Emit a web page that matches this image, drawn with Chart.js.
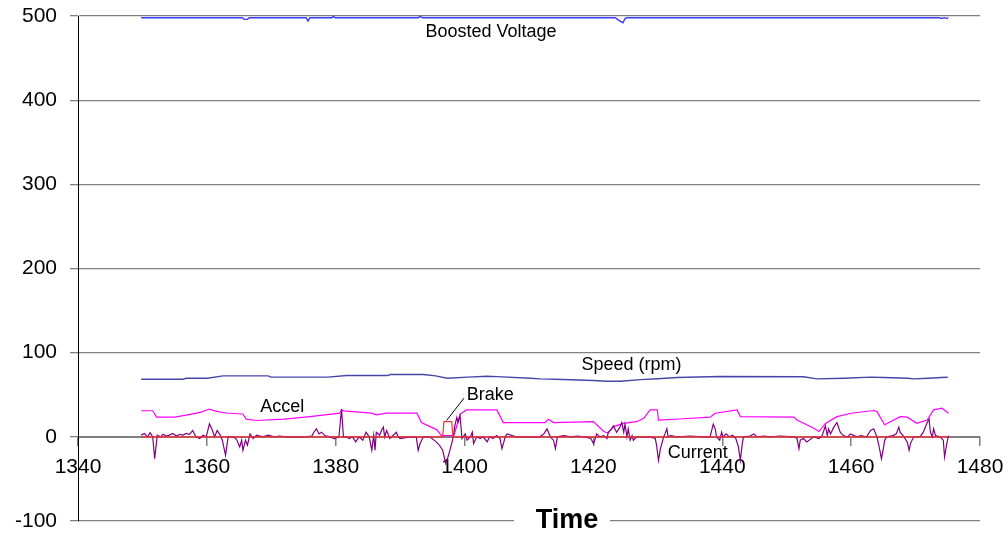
<!DOCTYPE html>
<html>
<head>
<meta charset="utf-8">
<script src="https://cdn.jsdelivr.net/npm/chart.js@4/dist/chart.umd.min.js"></script>
<style>
html,body{margin:0;padding:0;background:#fff;}
#wrap{width:1008px;height:533px;}
</style>
</head>
<body>
<div id="wrap"><canvas id="c" width="1008" height="533"></canvas></div>
<script>
// ---- Data ----
const xTicks = [1340, 1360, 1380, 1400, 1420, 1440, 1460, 1480];
const yTicks = [-100, 0, 100, 200, 300, 400, 500];

const voltageTime = [1349.8,1365.5,1365.8,1366.3,1366.6,1375.4,1375.7,1376.0,1379.4,1379.6,1379.9,1392.8,1393.1,1393.5,1423.4,1424.0,1424.6,1424.9,1425.2,1473.6,1474.0,1474.5,1474.8,1475.1];
const voltage     = [498,498,496,496,498,498,494,498,498,499.5,498,498,499.5,498,498,494.5,492,497,498,498,497,498,497,498];

const speedTime = [1349.8,1356.3,1356.8,1360.1,1362.5,1369.5,1370,1378.8,1381.7,1388,1388.5,1393.6,1395.5,1397.3,1400.5,1403.5,1405,1410.2,1411.7,1415.3,1420,1422,1424.2,1427.3,1430,1433,1439.6,1452.6,1454.7,1459,1463,1465,1468.8,1469.7,1472,1474,1475];
const speed     = [68.5,68.5,69.6,69.6,72.4,72.4,70.9,70.9,72.8,72.8,74,74,72.4,69.6,70.9,72,71.5,69.6,68.9,68.1,67,66.1,66.1,68,69,70.5,71.6,71.3,68.9,69.6,70.9,70.5,69.6,68.9,69.6,70.5,70.8];

const accelTime = [1349.8,1351.6,1352.2,1355,1357,1359,1360.4,1361.5,1363.0,1365.6,1366.1,1367.7,1372,1376.0,1380.6,1380.9,1381.2,1385.6,1386.3,1387.9,1392.6,1393.3,1395.7,1396.4,1398.3,1398.5,1399.3,1400.3,1405,1406,1411.7,1412.5,1413,1413.8,1420,1421.6,1422.3,1423.1,1424.7,1426.7,1427.8,1428.8,1429.9,1430.1,1434,1438.1,1438.9,1442.3,1442.8,1451.1,1451.6,1454.2,1455,1456,1457.8,1460,1463.5,1464,1465.2,1467.6,1468.7,1470.2,1471.8,1472.8,1474.1,1475.1];
const accel     = [31,31,23.4,23.4,26,29,33,30.2,28.3,27.1,21.1,19.4,21,24.1,28.1,32,30.9,28.1,26.1,28.1,28.1,17,8.3,1.5,1.5,5.5,27,32,32,17,17,17,21,17,18,6.3,4.4,12.2,16,18,22,32,32,20,21.5,23.4,28,32,24,23.4,20,10.3,6.3,16,24,28,31.3,30,14.3,24,23.4,16,20,32,34,28];

const brakeTime = [1349.8,1396.6,1396.8,1398.0,1398.2,1475.1];
const brake     = [0,0,18,18,0,0];

const currentTime = [1349.8,1350.3,1350.8,1351.2,1351.6,1351.9,1352.3,1352.8,1353.2,1353.7,1354.2,1354.7,1355.3,1355.8,1356.3,1356.8,1357.3,1357.8,1358.3,1358.9,1359.4,1359.9,1360.4,1360.8,1361.2,1361.6,1362.0,1362.4,1362.9,1363.3,1364.1,1364.6,1365.1,1365.4,1365.6,1366.0,1366.3,1366.7,1367.2,1367.7,1368.7,1369.5,1370.5,1371.3,1372.3,1373.9,1375,1376.3,1376.6,1377.0,1377.4,1377.8,1378.3,1379.1,1379.8,1380.5,1380.9,1381.2,1381.6,1382.1,1382.6,1383.1,1383.6,1384.2,1384.7,1385.2,1385.6,1385.9,1386.1,1386.3,1386.8,1387.1,1387.4,1387.6,1387.9,1388.4,1389.4,1389.7,1390,1391.5,1392.5,1392.8,1393.1,1393.6,1394.6,1395.6,1396.1,1396.6,1397.1,1397.5,1398.0,1398.3,1398.5,1398.8,1399.0,1399.3,1399.6,1400.1,1400.4,1400.9,1401.2,1401.4,1401.9,1402.4,1402.9,1403.5,1403.9,1404.4,1405.0,1405.5,1405.8,1406.1,1406.3,1406.6,1408,1410,1411.7,1412.3,1412.8,1413.3,1413.8,1414.1,1414.4,1415.4,1416.5,1417.5,1418.6,1419.6,1420.0,1420.3,1420.5,1421.0,1421.6,1422.1,1422.3,1422.8,1423.1,1423.6,1424.1,1424.4,1424.7,1424.9,1425.2,1425.4,1425.7,1426.0,1426.2,1426.7,1428.8,1429.6,1429.8,1430.1,1430.4,1430.9,1431.1,1431.4,1431.6,1432,1433,1435,1437,1438.1,1438.6,1438.9,1439.1,1439.6,1439.9,1440.1,1440.6,1441.1,1441.6,1442.1,1442.5,1442.8,1443.1,1443.3,1444.3,1444.9,1445.4,1446.5,1447.5,1449,1451.1,1451.6,1451.9,1452.1,1452.6,1453.1,1454.2,1455.0,1455.5,1456.0,1456.3,1456.5,1456.8,1457.3,1457.8,1458.3,1458.8,1459.4,1459.9,1460.9,1461.5,1462.4,1463.0,1463.5,1464.0,1464.3,1464.7,1465.0,1465.2,1465.5,1466.5,1467.0,1467.4,1467.6,1468.2,1468.7,1469.0,1469.2,1469.7,1470.7,1471.2,1471.8,1472.1,1472.3,1472.6,1472.8,1473.1,1473.8,1474.3,1474.5,1474.8,1475.1];
const current     = [2,4,0,5,0,-26,2,0,3,1,2,4,1,3,2,4,3,7.5,0,-2,2,0,15.4,9,0,7.5,3,-4,-22,0,0,-3,-12,-4,-16,-4,-10,3.5,-2,2,0,2,0,1,0,0,0,1,5.5,9.5,3.5,5.5,1.5,0,-2,0,33,0,0,-2,0,-6,0,-4,5.5,0,-16,2,-16,5.5,2,7.5,11.5,0,7.5,-2,5.5,0,-2,0,0,-16,-8,0,0,-6,-10,-16,-32,-22,-8,2,13.5,23,17.5,25,-2,3.5,-4,0,5.5,-8,0,-2,0,-6,0,-2,1.5,-2,-14,-6,0,3.5,0,0,0,3.5,9.5,0,-4,-14,0,1.5,0,1,0,-2,-8,-2,3.5,0,1.5,-2,5.5,9.5,13,5.5,11.5,17,5.5,15,0,9.5,-4,1.5,-4,0,0,-2,-10,-28,-14,0,3.5,9.5,0,1.5,0,1,0,0,15,9.5,0,-4,5.5,0,3.5,0,2,-2,-12,-28,-8,0,1,3.5,0,1,0,1,0,-2,-14,-4,-2,-6,0,-2,1.5,13,1.5,9.5,3.5,11.5,17,5.5,1.5,0,3.5,0,1.5,0,7.5,9.5,0,-10,-26,-14,-4,0,1.5,3.5,11.5,5.5,0,-6,-16,-8,0,0,5.5,17,21,5.5,0,9.5,1.5,0,-4,-24,-10,1.5];

// ---- Series labels placed on the plot ----
const seriesNotes = [
  {text: 'Boosted Voltage', x: 1404.1, y: 481},
  {text: 'Speed (rpm)',     x: 1425.9, y: 85.5},
  {text: 'Accel',           x: 1371.7, y: 35.6},
  {text: 'Brake',           x: 1404.0, y: 49.9},
  {text: 'Current',         x: 1436.2, y: -19}
];
const brakeLeader = {from: {x: 1399.9, y: 45.9}, to: {x: 1397.2, y: 19.4}};
const axisTitle = 'Time';

const pts = (t, v) => t.map((x, i) => ({x, y: v[i]}));
const FONT = "'Liberation Sans', Arial, sans-serif";

const notesPlugin = {
  id: 'notes',
  afterDraw(chart) {
    const {ctx, scales: {x, y}, chartArea} = chart;
    ctx.save();
    ctx.fillStyle = '#000';
    ctx.font = '18px ' + FONT;
    ctx.textAlign = 'center';
    ctx.textBaseline = 'middle';
    seriesNotes.forEach(n => ctx.fillText(n.text, x.getPixelForValue(n.x), y.getPixelForValue(n.y)));
    ctx.strokeStyle = '#000';
    ctx.lineWidth = 1;
    ctx.beginPath();
    ctx.moveTo(x.getPixelForValue(brakeLeader.from.x), y.getPixelForValue(brakeLeader.from.y));
    ctx.lineTo(x.getPixelForValue(brakeLeader.to.x), y.getPixelForValue(brakeLeader.to.y));
    ctx.stroke();
    // axis title over the bottom gridline
    const cx = 567, cy = chartArea.bottom;
    ctx.fillStyle = '#fff';
    ctx.fillRect(514, cy - 3, 96, 6);
    ctx.fillStyle = '#000';
    ctx.font = 'bold 27px ' + FONT;
    ctx.fillText(axisTitle, cx, cy);
    ctx.restore();
  }
};

const ds = (label, t, v, color, w) => ({
  label, data: pts(t, v), borderColor: color, backgroundColor: color,
  borderWidth: w, pointRadius: 0, tension: 0, fill: false
});

new Chart(document.getElementById('c'), {
  type: 'line',
  data: {
    datasets: [
      ds('Brake', brakeTime, brake, '#ff3030', 1.2),
      ds('Current', currentTime, current, '#800080', 1.2),
      ds('Accel', accelTime, accel, '#ff00ff', 1.2),
      ds('Speed (rpm)', speedTime, speed, '#4646a8', 1.4),
      ds('Boosted Voltage', voltageTime, voltage, '#3a3aff', 1.4)
    ]
  },
  options: {
    responsive: false,
    animation: false,
    layout: {padding: {top: 16, right: 28, bottom: 12, left: 0}},
    plugins: {legend: {display: false}, tooltip: {enabled: false}},
    scales: {
      x: {
        type: 'linear',
        position: {y: 0},
        min: 1340, max: 1480,
        afterBuildTicks: s => { s.ticks = xTicks.map(v => ({value: v})); },
        afterFit: s => { s.height = 0; s.paddingTop = 0; s.paddingBottom = 0; s.paddingLeft = 0; s.paddingRight = 0; },
        ticks: {color: '#000', font: {family: FONT, size: 21}, padding: 10, autoSkip: false, maxRotation: 0,
                callback: v => String(v)},
        grid: {drawOnChartArea: false, drawTicks: true, tickLength: 8, color: '#808080', lineWidth: 1.5},
        border: {display: true, color: '#808080', width: 2}
      },
      y: {
        min: -100, max: 500,
        afterBuildTicks: s => { s.ticks = yTicks.map(v => ({value: v})); },
        afterFit: s => { s.width = 78; s.paddingTop = 0; s.paddingBottom = 0; },
        ticks: {color: '#000', font: {family: FONT, size: 21, lineHeight: 1}, padding: 13, callback: v => String(v)},
        grid: {color: '#808080', lineWidth: 1.3, tickLength: 8},
        border: {display: true, color: '#000', width: 1}
      }
    }
  },
  plugins: [notesPlugin]
});
</script>
</body>
</html>
